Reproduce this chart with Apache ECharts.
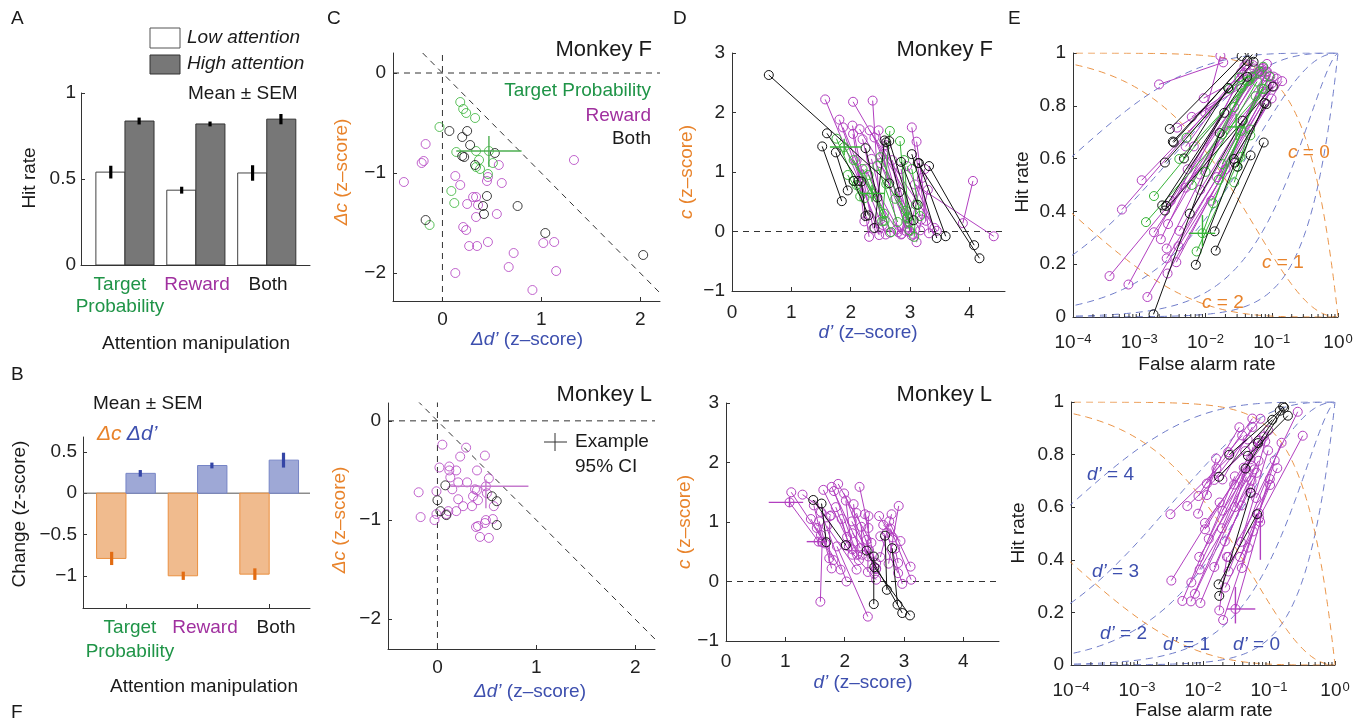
<!DOCTYPE html>
<html>
<head>
<meta charset="utf-8">
<script src="https://cdn.jsdelivr.net/npm/echarts@6/dist/echarts.min.js"></script>
<style>
html, body { margin: 0; background: #fff; }
#main { width: 1364px; height: 723px; }
</style>
</head>
<body>
<div id="main"></div>
<script>
var FONT = 'Liberation Sans';
var GREEN = '#36b336', PURPLE = '#b23fc0', BLACK = '#111111';
var GREEN_T = '#1f9447', PURPLE_T = '#a0309f', ORANGE = '#e8832b', BLUE = '#3d4fae';

// ---- A / B : group means ----
var groups = [1, 2, 3];
var hitLow = [0.54, 0.435, 0.535], hitLowSem = [0.037, 0.02, 0.045];
var hitHigh = [0.837, 0.82, 0.848], hitHighSem = [0.02, 0.014, 0.03];
var chgC = [-0.79, -1.0, -0.98], chgCSem = [0.08, 0.05, 0.07];
var chgD = [0.24, 0.335, 0.40], chgDSem = [0.04, 0.035, 0.09];

// ---- C : change (dd', dc) per session, Monkey F ----
var dF_tp = [[0.18,-0.29],[0.21,-0.36],[0.24,-0.40],[0.33,-0.45],[-0.03,-0.54],[0.14,-0.79],[0.34,-0.78],[0.47,-0.78],
  [0.37,-0.87],[0.34,-0.94],[0.38,-0.96],[0.51,-0.90],[0.46,-1.01],[0.09,-1.18],[0.12,-1.30],[-0.13,-1.52]];
var dF_rw = [[-0.17,-0.71],[-0.39,-1.09],[-0.21,-0.90],[-0.19,-0.88],[0.13,-1.03],[0.18,-1.12],[0.57,-0.92],[0.60,-1.10],
  [0.45,-1.08],[0.46,-1.04],[0.31,-1.24],[0.34,-1.24],[0.25,-1.31],[0.36,-1.32],[0.34,-1.44],[0.55,-1.41],[0.21,-1.54],
  [0.24,-1.57],[0.27,-1.73],[0.35,-1.73],[0.46,-1.69],[0.72,-1.80],[0.67,-1.94],[0.13,-2.00],[0.91,-2.17],[1.02,-1.70],
  [1.13,-1.69],[1.15,-1.98],[1.33,-0.87]];
var dF_both = [[0.07,-0.58],[0.25,-0.58],[0.20,-0.64],[0.28,-0.72],[0.22,-0.84],[0.20,-0.83],[0.33,-0.92],[0.53,-0.80],
  [0.45,-1.23],[0.41,-1.33],[0.42,-1.41],[0.76,-1.33],[1.04,-1.60],[2.03,-1.82],[-0.17,-1.47]];
// ---- C : Monkey L ----
var dL_rw = [[0.05,-0.24],[0.29,-0.27],[0.48,-0.35],[0.23,-0.36],[0.02,-0.47],[0.12,-0.46],[0.12,-0.50],[0.19,-0.50],
  [0.40,-0.50],[0.52,-0.58],[0.13,-0.57],[0.21,-0.62],[0.30,-0.62],[0.15,-0.69],[0.49,-0.66],[0.50,-0.73],[-0.19,-0.72],
  [-0.01,-0.71],[0.38,-0.69],[0.40,-0.70],[0.36,-0.76],[0.21,-0.79],[0.26,-0.86],[0.35,-0.86],[0.41,-0.80],[0.57,-0.86],
  [0.11,-0.91],[0.19,-0.91],[-0.17,-0.97],[-0.03,-1.00],[-0.01,-0.94],[0.49,-1.00],[0.48,-1.03],[0.56,-0.99],[0.39,-1.07],
  [0.41,-1.06],[0.43,-1.17],[0.52,-1.18],[0.09,-0.94]];
var dL_both = [[0.00,-0.80],[0.08,-0.65],[0.03,-0.91],[0.09,-0.95],[0.55,-0.76],[0.60,-0.81],[0.60,-1.05]];

// ---- D : low-attention (d', c) of the same sessions, same order ----
var lowF_tp = [[2.05,0.85],[1.95,0.95],[2.75,0.55],[2.60,0.80],[3.10,0.45],[3.03,1.05],[1.76,1.56],[1.89,1.42],
  [2.20,1.05],[2.45,1.10],[2.30,0.95],[2.05,1.20],[2.50,1.25],[2.90,1.20],[2.83,1.52],[2.66,1.69]];
var lowF_rw = [[4.06,0.85],[3.25,1.05],[3.20,0.90],[3.30,0.70],[2.10,1.20],[2.85,1.05],[2.20,0.95],[2.25,1.05],
  [2.50,1.15],[2.95,1.10],[2.35,1.22],[2.70,1.20],[2.55,1.30],[2.60,1.45],[2.20,1.55],[2.40,1.58],[3.11,1.51],
  [3.03,1.75],[2.04,1.64],[2.03,1.78],[2.47,1.70],[1.87,1.75],[1.81,1.88],[2.37,2.20],[1.57,2.22],[2.15,1.72],
  [2.32,1.70],[2.04,2.18],[3.08,0.79]];
var lowF_both = [[2.18,0.84],[2.05,0.85],[1.75,1.33],[2.85,1.17],[2.60,1.50],[2.25,1.40],[1.52,1.43],[1.60,1.65],
  [3.15,1.15],[2.65,1.52],[3.03,1.30],[3.32,1.10],[3.13,1.15],[0.62,2.63],[2.57,1.53]];
var lowL_rw = [[2.85,0.55],[2.65,0.95],[1.29,1.46],[2.58,1.10],[2.28,0.92],[1.95,1.05],[1.48,1.28],[1.85,1.25],
  [2.13,0.81],[2.01,0.61],[2.37,0.70],[2.20,1.15],[2.60,0.76],[2.25,1.59],[1.07,1.33],[1.70,0.93],[2.79,1.13],
  [1.75,1.10],[1.43,1.05],[1.53,0.90],[2.75,1.01],[1.57,1.01],[2.71,0.82],[2.77,0.89],[2.12,1.01],[1.10,1.50],
  [2.02,1.36],[2.34,1.13],[2.91,1.27],[1.62,0.66],[2.40,1.10],[1.64,1.54],[1.78,1.59],[1.89,1.64],[1.82,1.52],
  [1.99,1.48],[1.60,1.17],[1.87,0.59],[2.15,1.30]];
var lowL_both = [[2.49,0.42],[1.61,1.31],[2.68,0.77],[2.80,0.56],[1.47,1.37],[2.50,0.24],[2.37,0.52]];

// example 95% CI crosses: [x, y, xLo, xHi, yLo, yHi]
var ciC_F = [[0.47,-0.78,0.14,0.80,-0.63,-0.94]];
var ciC_L = [[0.49,-0.66,0.13,0.92,-0.59,-0.88]];
var ciD_F = [[1.89,1.42,1.65,2.18,1.28,1.56],[2.36,0.64,2.15,2.57,0.50,0.78]];
var ciD_L = [[1.07,1.33,0.72,1.30,1.25,1.42],[1.56,0.67,1.36,1.69,0.60,0.74]];
var ciE_F = [[0.009,0.317,0.0056,0.014,0.266,0.386],[0.029,0.72,0.021,0.04,0.67,0.77]];
var ciE_L = [[0.031,0.213,0.023,0.062,0.158,0.297],[0.074,0.544,0.068,0.081,0.40,0.56]];

// iso-criterion / iso-sensitivity guides in E
var isoDprime = [0, 1, 2, 3, 4];
var isoCrit = [0, 1, 2];

function Phi(z) {
  var t = 1 / (1 + 0.2316419 * Math.abs(z));
  var d = 0.3989423 * Math.exp(-z * z / 2);
  var p = d * t * (0.3193815 + t * (-0.3565638 + t * (1.781478 + t * (-1.821256 + t * 1.330274))));
  return z > 0 ? 1 - p : p;
}
function toFH(d, c) { return [Phi(-d / 2 - c), Phi(d / 2 - c)]; }
function pairs(lows, deltas) {
  return lows.map(function (p, i) { return [p[0], p[1], p[0] + deltas[i][0], p[1] + deltas[i][1]]; });
}
function pairsE(pr) {
  return pr.map(function (q) { var a = toFH(q[0], q[1]), b = toFH(q[2], q[3]); return [a[0], a[1], b[0], b[1]]; });
}
function isoD(d) { var out = []; for (var z = -3.9; z <= 4.6; z += 0.04) out.push([Phi(z), Phi(z + d)]); return out; }
function isoC(c) { var out = []; for (var z = -3.9; z <= 4.6; z += 0.04) out.push([Phi(z), Phi(-2 * c - z)]); return out; }

var minorLog = [];
for (var k = -4; k < 0; k++) for (var m = 2; m <= 9; m++) minorLog.push([m * Math.pow(10, k)]);

// ---------- axes ----------
function minusFmt(v) { return (v < 0 ? '\u2212' : '') + String(+Math.abs(v).toFixed(2)); }
function ax(gi, min, max, ticks, opt) {
  opt = opt || {};
  var a = {
    type: opt.log ? 'log' : 'value', gridIndex: gi, min: min, max: max,
    axisLine: { onZero: false, lineStyle: { color: '#333', width: 1 } },
    axisTick: { inside: true, length: 4, lineStyle: { color: '#333' } },
    axisLabel: { show: !opt.noLabel, fontSize: 19, fontFamily: FONT, color: '#222', margin: opt.margin || 8,
      formatter: opt.fmt || minusFmt },
    splitLine: { show: false }
  };
  if (opt.log) { a.logBase = 10; a.splitNumber = 4; }
  if (ticks) { a.axisTick.customValues = ticks; a.axisLabel.customValues = ticks; }
  if (opt.rich) a.axisLabel.rich = opt.rich;
  return a;
}
var logRich = { b: { fontSize: 19, fontFamily: FONT, color: '#222' },
  s: { fontSize: 13, fontFamily: FONT, color: '#222', verticalAlign: 'top', padding: [0, 0, 0, 1] } };
function logFmt(v) { var e = Math.round(Math.log10(v)); return '{b|10}{s|' + (e < 0 ? '\u2212' : '') + Math.abs(e) + '}'; }

var grids = [
  { left: 81, top: 93, width: 229, height: 172 },
  { left: 83, top: 437, width: 227, height: 171 },
  { left: 393, top: 53, width: 267, height: 248 },
  { left: 388, top: 403, width: 267, height: 246 },
  { left: 732, top: 53, width: 273, height: 238 },
  { left: 726, top: 403, width: 273, height: 238 },
  { left: 1073, top: 53, width: 265, height: 264 },
  { left: 1071, top: 402, width: 264, height: 263 }
];

var xAxes = [
  ax(0, 0.38, 3.61, [1, 2, 3], { noLabel: true }),
  ax(1, 0.40, 3.57, [1, 2, 3], { noLabel: true }),
  ax(2, -0.5, 2.2, [0, 1, 2], { margin: 9 }),
  ax(3, -0.5, 2.2, [0, 1, 2], { margin: 9 }),
  ax(4, 0, 4.6, [0, 1, 2, 3, 4], { margin: 12 }),
  ax(5, 0, 4.6, [0, 1, 2, 3, 4], { margin: 11 }),
  ax(6, 0.0001, 1, null, { log: true, fmt: logFmt, rich: logRich, margin: 16 }),
  ax(7, 0.0001, 1, null, { log: true, fmt: logFmt, rich: logRich, margin: 16 })
];
var yAxes = [
  ax(0, 0, 1, [0, 0.5, 1], { margin: 5 }),
  ax(1, -1.39, 0.68, [-1, -0.5, 0, 0.5], { margin: 6 }),
  ax(2, -2.28, 0.2, [-2, -1, 0], { margin: 7 }),
  ax(3, -2.3, 0.18, [-2, -1, 0], { margin: 7 }),
  ax(4, -1, 3, [-1, 0, 1, 2, 3], { margin: 7 }),
  ax(5, -1, 3, [-1, 0, 1, 2, 3], { margin: 7 }),
  ax(6, 0, 1, [0, 0.2, 0.4, 0.6, 0.8, 1], { margin: 7 }),
  ax(7, 0, 1, [0, 0.2, 0.4, 0.6, 0.8, 1], { margin: 7 })
];

// ---------- render helpers ----------
function barRender(fill, stroke) {
  return function (params, api) {
    var a = api.coord([api.value(0), api.value(2)]);
    var b = api.coord([api.value(1), 0]);
    return { type: 'rect', shape: { x: Math.min(a[0], b[0]), y: Math.min(a[1], b[1]),
      width: Math.abs(b[0] - a[0]), height: Math.abs(b[1] - a[1]) },
      style: { fill: fill, stroke: stroke, lineWidth: 1 } };
  };
}
function errRender(color) {
  return function (params, api) {
    var x = api.value(0), m = api.value(1), s = api.value(2);
    var a = api.coord([x, m - s]), b = api.coord([x, m + s]);
    return { type: 'line', shape: { x1: a[0], y1: a[1], x2: b[0], y2: b[1] },
      style: { stroke: color, lineWidth: 3.2 } };
  };
}
function pairRender(color, r) {
  return function (params, api) {
    var a = api.coord([api.value(0), api.value(1)]);
    var b = api.coord([api.value(2), api.value(3)]);
    return { type: 'group', children: [
      { type: 'line', shape: { x1: a[0], y1: a[1], x2: b[0], y2: b[1] }, style: { stroke: color, lineWidth: 1 } },
      { type: 'circle', shape: { cx: a[0], cy: a[1], r: r }, style: { fill: 'none', stroke: color, lineWidth: 1 } },
      { type: 'circle', shape: { cx: b[0], cy: b[1], r: r }, style: { fill: 'none', stroke: color, lineWidth: 1 } }
    ] };
  };
}
function ciRender(color) {
  return function (params, api) {
    var x = api.value(0), y = api.value(1);
    var h1 = api.coord([api.value(2), y]), h2 = api.coord([api.value(3), y]);
    var v1 = api.coord([x, api.value(4)]), v2 = api.coord([x, api.value(5)]);
    return { type: 'group', children: [
      { type: 'line', shape: { x1: h1[0], y1: h1[1], x2: h2[0], y2: h2[1] }, style: { stroke: color, lineWidth: 1.4 } },
      { type: 'line', shape: { x1: v1[0], y1: v1[1], x2: v2[0], y2: v2[1] }, style: { stroke: color, lineWidth: 1.4 } }
    ] };
  };
}
function minorRender(params, api) {
  var p = api.coord([api.value(0), 0]);
  return { type: 'line', shape: { x1: p[0], y1: p[1], x2: p[0], y2: p[1] - 3 }, style: { stroke: '#333', lineWidth: 1 } };
}
function custom(gi, data, render, z) {
  return { type: 'custom', coordinateSystem: 'cartesian2d', xAxisIndex: gi, yAxisIndex: gi,
    data: data, renderItem: render, silent: true, clip: true, z: z || 2 };
}
function guide(gi, pts, color, dash, w) {
  return { type: 'line', xAxisIndex: gi, yAxisIndex: gi, data: pts, showSymbol: false, symbol: 'none',
    silent: true, clip: true, z: 1, lineStyle: { color: color, width: w || 1, type: dash || 'solid' } };
}
function scatter(gi, data, color) {
  return { type: 'scatter', xAxisIndex: gi, yAxisIndex: gi, data: data, symbol: 'circle', symbolSize: 9,
    silent: true, z: 3, itemStyle: { color: 'rgba(0,0,0,0)', borderColor: color, borderWidth: 1 } };
}

var series = [];
// A
series.push(custom(0, groups.map(function (g, i) { return [g - 0.41, g, hitLow[i]]; }), barRender('#ffffff', '#444')));
series.push(custom(0, groups.map(function (g, i) { return [g, g + 0.41, hitHigh[i]]; }), barRender('#777777', '#333')));
series.push(custom(0, groups.map(function (g, i) { return [g - 0.2, hitLow[i], hitLowSem[i]]; }), errRender('#000'), 4));
series.push(custom(0, groups.map(function (g, i) { return [g + 0.2, hitHigh[i], hitHighSem[i]]; }), errRender('#000'), 4));
// B
series.push(guide(1, [[0.40, 0], [3.57, 0]], '#555', 'solid', 1));
series.push(custom(1, groups.map(function (g, i) { return [g - 0.41, g, chgC[i]]; }), barRender('#f0bb8e', '#ea9040')));
series.push(custom(1, groups.map(function (g, i) { return [g, g + 0.41, chgD[i]]; }), barRender('#9ea8d6', '#7685c6')));
series.push(custom(1, groups.map(function (g, i) { return [g - 0.2, chgC[i], chgCSem[i]]; }), errRender('#e26c12'), 4));
series.push(custom(1, groups.map(function (g, i) { return [g + 0.2, chgD[i], chgDSem[i]]; }), errRender('#3445a6'), 4));
// C
[2, 3].forEach(function (gi) {
  series.push(guide(gi, [[-0.5, 0], [2.2, 0]], '#333', [6, 5]));
  series.push(guide(gi, [[0, -2.3], [0, 0.2]], '#333', [6, 5]));
  series.push(guide(gi, [[-0.2, 0.2], [2.2, -2.2]], '#333', [6, 5]));
});
series.push(scatter(2, dF_rw, PURPLE));
series.push(scatter(2, dF_tp, GREEN));
series.push(scatter(2, dF_both, BLACK));
series.push(custom(2, ciC_F, ciRender('#4caf50'), 4));
series.push(scatter(3, dL_rw, PURPLE));
series.push(scatter(3, dL_both, BLACK));
series.push(custom(3, ciC_L, ciRender('#c57acd'), 4));
// D
var prF_rw = pairs(lowF_rw, dF_rw), prF_tp = pairs(lowF_tp, dF_tp), prF_both = pairs(lowF_both, dF_both);
var prL_rw = pairs(lowL_rw, dL_rw), prL_both = pairs(lowL_both, dL_both);
series.push(guide(4, [[0, 0], [4.6, 0]], '#333', [6, 5]));
series.push(guide(5, [[0, 0], [4.6, 0]], '#333', [6, 5]));
series.push(custom(4, prF_rw, pairRender(PURPLE, 4.5)));
series.push(custom(4, prF_tp, pairRender(GREEN, 4.5), 3));
series.push(custom(4, prF_both, pairRender(BLACK, 4.5), 4));
series.push(custom(4, ciD_F, ciRender(GREEN), 5));
series.push(custom(5, prL_rw, pairRender(PURPLE, 4.5)));
series.push(custom(5, prL_both, pairRender(BLACK, 4.5), 4));
series.push(custom(5, ciD_L, ciRender(PURPLE), 5));
// E
[6, 7].forEach(function (gi) {
  isoDprime.forEach(function (d) { series.push(guide(gi, isoD(d), '#6f7cc9', [7, 5])); });
  isoCrit.forEach(function (c) { series.push(guide(gi, isoC(c), '#ea9447', [7, 5])); });
  series.push(custom(gi, minorLog, minorRender));
});
series.push(custom(6, pairsE(prF_rw), pairRender(PURPLE, 4.5)));
series.push(custom(6, pairsE(prF_tp), pairRender(GREEN, 4.5), 3));
series.push(custom(6, pairsE(prF_both), pairRender(BLACK, 4.5), 4));
series.push(custom(6, ciE_F, ciRender(GREEN), 5));
series.push(custom(7, pairsE(prL_rw), pairRender(PURPLE, 4.5)));
series.push(custom(7, pairsE(prL_both), pairRender(BLACK, 4.5), 4));
series.push(custom(7, ciE_L, ciRender(PURPLE), 5));

// ---------- text ----------
function T(x, y, text, o) {
  o = o || {};
  var st = { text: text, fill: o.color || '#1a1a1a', fontSize: o.size || 19, fontFamily: FONT,
    fontStyle: o.italic ? 'italic' : 'normal', align: o.align || 'left', verticalAlign: 'middle' };
  if (o.rich) st.rich = o.rich;
  return { type: 'text', x: x, y: y, rotation: o.rot || 0, style: st, z: 100, silent: true };
}
function ri(color, size) { return { i: { fontStyle: 'italic', fontSize: size || 19, fontFamily: FONT, fill: color } }; }
var ROT = Math.PI / 2;
var graphics = [
  T(11, 19, 'A'), T(11, 375, 'B'), T(327, 19, 'C'),
  T(673, 19, 'D'), T(1008, 19, 'E'), T(11, 713, 'F'),
  // A
  { type: 'rect', shape: { x: 150, y: 28, width: 30, height: 20 }, style: { fill: '#fff', stroke: '#555', lineWidth: 1 } },
  { type: 'rect', shape: { x: 150, y: 55, width: 30, height: 19 }, style: { fill: '#777', stroke: '#333', lineWidth: 1 } },
  T(187, 38, 'Low attention', { italic: true }), T(187, 64, 'High attention', { italic: true }),
  T(188, 94, 'Mean \u00b1 SEM'),
  T(120, 285, 'Target', { align: 'center', color: GREEN_T }), T(120, 307, 'Probability', { align: 'center', color: GREEN_T }),
  T(197, 285, 'Reward', { align: 'center', color: PURPLE_T }), T(268, 285, 'Both', { align: 'center' }),
  T(196, 344, 'Attention manipulation', { align: 'center' }),
  T(30, 178, 'Hit rate', { align: 'center', rot: ROT }),
  // B
  T(93, 404, 'Mean \u00b1 SEM'),
  T(97, 434, '{o|\u0394c} {b|\u0394d\u2019}', { rich: { o: { fontStyle: 'italic', fontSize: 21, fontFamily: FONT, fill: ORANGE },
    b: { fontStyle: 'italic', fontSize: 21, fontFamily: FONT, fill: BLUE } } }),
  T(130, 628, 'Target', { align: 'center', color: GREEN_T }), T(130, 652, 'Probability', { align: 'center', color: GREEN_T }),
  T(205, 628, 'Reward', { align: 'center', color: PURPLE_T }), T(276, 628, 'Both', { align: 'center' }),
  T(204, 687, 'Attention manipulation', { align: 'center' }),
  T(20, 514, 'Change (z-score)', { align: 'center', rot: ROT }),
  // C
  T(652, 50, 'Monkey F', { align: 'right', size: 22 }),
  T(651, 91, 'Target Probability', { align: 'right', color: GREEN_T }),
  T(651, 116, 'Reward', { align: 'right', color: PURPLE_T }),
  T(651, 139, 'Both', { align: 'right' }),
  T(527, 340, '{i|\u0394d\u2019} (z\u2013score)', { align: 'center', color: BLUE, rich: ri(BLUE) }),
  T(342, 172, '{i|\u0394c} (z\u2013score)', { align: 'center', color: ORANGE, rich: ri(ORANGE), rot: ROT }),
  T(652, 395, 'Monkey L', { align: 'right', size: 22 }),
  { type: 'line', shape: { x1: 544, y1: 442, x2: 567, y2: 442 }, style: { stroke: '#333', lineWidth: 1 } },
  { type: 'line', shape: { x1: 555, y1: 433, x2: 555, y2: 451 }, style: { stroke: '#333', lineWidth: 1 } },
  T(575, 442, 'Example'), T(575, 467, '95% CI'),
  T(530, 692, '{i|\u0394d\u2019} (z\u2013score)', { align: 'center', color: BLUE, rich: ri(BLUE) }),
  T(340, 520, '{i|\u0394c} (z\u2013score)', { align: 'center', color: ORANGE, rich: ri(ORANGE), rot: ROT }),
  // D
  T(993, 50, 'Monkey F', { align: 'right', size: 22 }),
  T(868, 333, '{i|d\u2019} (z\u2013score)', { align: 'center', color: BLUE, rich: ri(BLUE) }),
  T(687, 172, '{i|c} (z\u2013score)', { align: 'center', color: ORANGE, rich: ri(ORANGE), rot: ROT }),
  T(992, 395, 'Monkey L', { align: 'right', size: 22 }),
  T(863, 683, '{i|d\u2019} (z\u2013score)', { align: 'center', color: BLUE, rich: ri(BLUE) }),
  T(685, 522, '{i|c} (z\u2013score)', { align: 'center', color: ORANGE, rich: ri(ORANGE), rot: ROT }),
  // E
  T(1207, 365, 'False alarm rate', { align: 'center' }),
  T(1023, 182, 'Hit rate', { align: 'center', rot: ROT }),
  T(1288, 153, '{i|c} = 0', { color: ORANGE, rich: ri(ORANGE) }),
  T(1262, 263, '{i|c} = 1', { color: ORANGE, rich: ri(ORANGE) }),
  T(1202, 303, '{i|c} = 2', { color: ORANGE, rich: ri(ORANGE) }),
  T(1204, 711, 'False alarm rate', { align: 'center' }),
  T(1019, 533, 'Hit rate', { align: 'center', rot: ROT }),
  T(1087, 475, '{i|d\u2019} = 4', { color: BLUE, rich: ri(BLUE) }),
  T(1092, 572, '{i|d\u2019} = 3', { color: BLUE, rich: ri(BLUE) }),
  T(1100, 634, '{i|d\u2019} = 2', { color: BLUE, rich: ri(BLUE) }),
  T(1163, 645, '{i|d\u2019} = 1', { color: BLUE, rich: ri(BLUE) }),
  T(1233, 645, '{i|d\u2019} = 0', { color: BLUE, rich: ri(BLUE) })
];

var chart = echarts.init(document.getElementById('main'));
chart.setOption({
  animation: false,
  backgroundColor: '#ffffff',
  textStyle: { fontFamily: FONT },
  grid: grids,
  xAxis: xAxes,
  yAxis: yAxes,
  series: series,
  graphic: { elements: graphics }
});
</script>
</body>
</html>
